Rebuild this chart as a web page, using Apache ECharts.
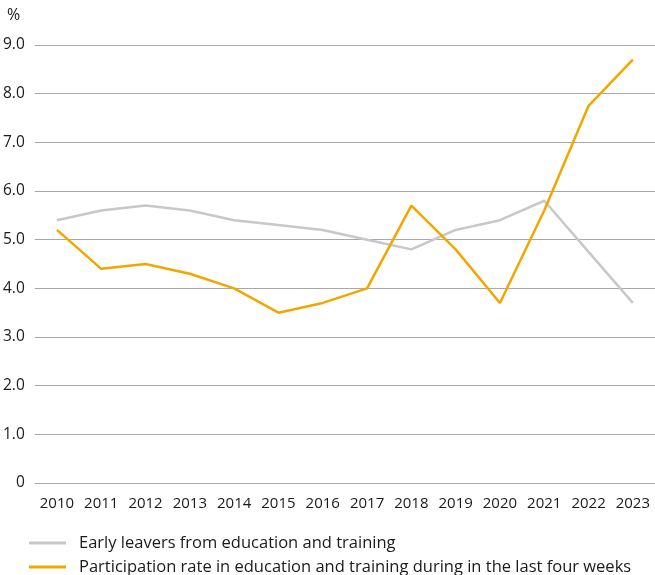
<!DOCTYPE html>
<html>
<head>
<meta charset="utf-8">
<script src="https://cdn.jsdelivr.net/npm/echarts@6/dist/echarts.min.js"></script>
<style>html,body{margin:0;padding:0;background:#fff}#c{width:655px;height:575px}</style>
</head>
<body>
<div id="c"></div>
<script>
const years = ['2010','2011','2012','2013','2014','2015','2016','2017','2018','2019','2020','2021','2022','2023'];
const earlyLeavers = [5.4, 5.6, 5.7, 5.6, 5.4, 5.3, 5.2, 5.0, 4.8, 5.2, 5.4, 5.8, 4.75, 3.7];
const participation = [5.2, 4.4, 4.5, 4.3, 4.0, 3.5, 3.7, 4.0, 5.7, 4.8, 3.7, 5.6, 7.75, 8.7];
const seriesNames = ['Early leavers from education and training', 'Participation rate in education and training during in the last four weeks'];
const yTicks = ['0','1.0','2.0','3.0','4.0','5.0','6.0','7.0','8.0','9.0'];

const FONT = '"Open Sans", sans-serif';
const chart = echarts.init(document.getElementById('c'));
chart.setOption({
  animation: false,
  backgroundColor: '#fff',
  title: { text: '%', left: 7, top: 7, padding: 0, textStyle: { fontFamily: FONT, fontSize: 16, fontWeight: 'normal', color: '#1a1a1a' } },
  grid: { left: 34, top: 45, width: 623, bottom: 92, containLabel: false },
  xAxis: {
    type: 'category', data: years, boundaryGap: true,
    axisLine: { show: false }, axisTick: { show: false },
    axisLabel: { interval: 0, margin: 13, fontFamily: FONT, fontSize: 15, color: '#1a1a1a' }
  },
  yAxis: {
    type: 'value', min: 0, max: 9, interval: 1,
    axisLine: { show: false }, axisTick: { show: false },
    splitLine: { lineStyle: { color: '#a8a8a8', width: 1 } },
    axisLabel: { margin: 10, fontFamily: FONT, fontSize: 15.5, color: '#1a1a1a',
      formatter: v => yTicks[Math.round(v)] }
  },
  legend: {
    orient: 'vertical', left: 29, top: 534, height: 60, padding: 0, itemGap: 6,
    itemWidth: 37, itemHeight: 3, icon: 'rect',
    textStyle: { fontFamily: FONT, fontSize: 16.5, color: '#1a1a1a', lineHeight: 18, padding: [0,0,0,8] },
    data: seriesNames
  },
  series: [
    { name: seriesNames[0], type: 'line', data: earlyLeavers, showSymbol: false, symbol: 'none',
      lineStyle: { color: '#c8c8c8', width: 2.5 }, itemStyle: { color: '#c8c8c8' } },
    { name: seriesNames[1], type: 'line', data: participation, showSymbol: false, symbol: 'none',
      lineStyle: { color: '#f3a600', width: 2.5 }, itemStyle: { color: '#f3a600' } }
  ]
});
</script>
</body>
</html>
